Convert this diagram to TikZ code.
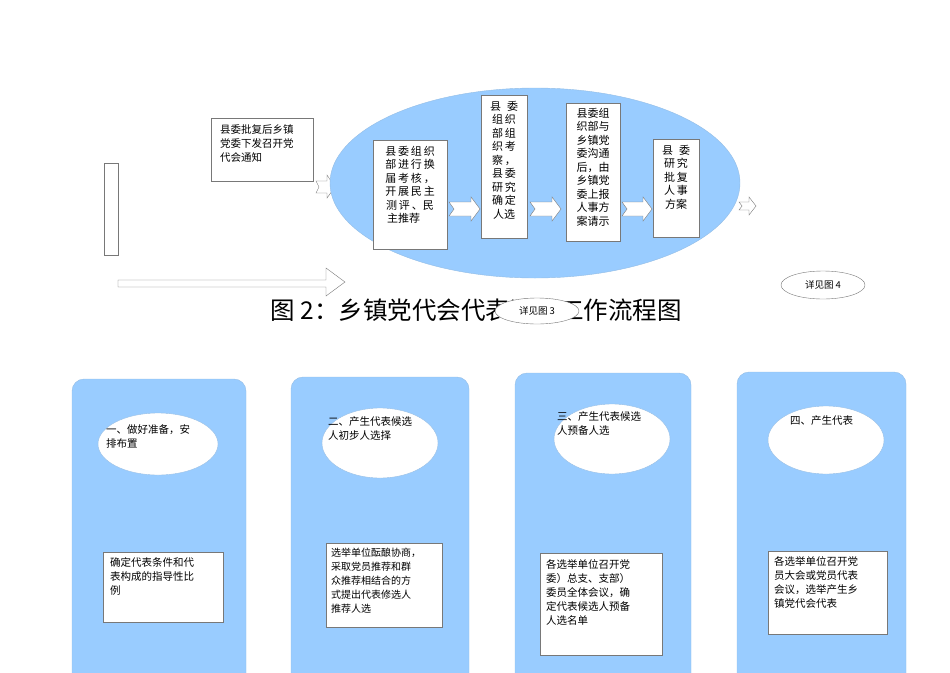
\documentclass[tikz,border=0pt]{standalone}
\usepackage{fontspec}
\setmainfont{Noto Sans CJK SC}
\usetikzlibrary{shapes.arrows}
\definecolor{lb}{RGB}{153,204,255}
\definecolor{ln}{RGB}{120,120,120}
\tikzset{
 wbox/.style={draw=ln,fill=white,line width=0.5pt,inner sep=0pt},
 txt/.style={font=\fontsize{10.5}{14}\selectfont,align=left,anchor=north west,inner sep=0pt},
 vtxt/.style={font=\fontsize{11}{13.5}\selectfont,align=center,anchor=north,inner sep=0pt},
 col/.style={fill=lb,draw=lb!80!gray,rounded corners=12pt},
 wel/.style={ellipse,draw=lb!80!gray,fill=white},
 harrow/.style={draw=ln,fill=white,line width=0.4pt},
}
\usetikzlibrary{shapes.geometric}
\begin{document}
\begin{tikzpicture}[x=1pt,y=-1pt]
\useasboundingbox (0,0) rectangle (950,672);
% left thin rect
\draw[ln,fill=white] (104,163) rectangle (118,255);
% long arrow
\draw[harrow] (118,280)--(326,280)--(326,268)--(345,282)--(326,296)--(326,287)--(118,287)--cycle;
% box
\node[wbox,minimum width=102pt,minimum height=63pt,anchor=north west] (b0) at (211,118) {};
\node[txt] at (220,124) {县委批复后乡镇\\党委下发召开党\\代会通知};
% small arrow left
\draw[harrow] (316,181)--(327,181)--(327,175)--(335,187)--(327,198)--(327,193)--(316,193)--(319,187)--cycle;
% big ellipse
\node[ellipse,fill=lb,draw=lb!80!gray,minimum width=410pt,minimum height=190pt] (el) at (535,183) {};
% boxes
\node[wbox,minimum width=74pt,minimum height=109pt,anchor=north west] (b1) at (373,140) {};
\node[vtxt] at (410,146) {县\,委\,组\,织\\部\,进\,行\,换\\届\,考\,核\,，\\开\,展\,民\,主\\测\,评\,、民\\主推荐\hphantom{\,民}};
\node[wbox,minimum width=46pt,minimum height=143pt,anchor=north west] (b2) at (481,95) {};
\node[vtxt] at (504,101) {县\hspace{6pt}委\\组\,织\\部\,组\\织\,考\\察\,，\\县\,委\\研\,究\\确\,定\\人选};
\node[wbox,minimum width=54pt,minimum height=138pt,anchor=north west] (b3) at (566,103) {};
\node[vtxt] at (593,108) {县委组\\织部与\\乡镇党\\委沟通\\后，由\\乡镇党\\委上报\\人事方\\案请示};
\node[wbox,minimum width=46pt,minimum height=98pt,anchor=north west] (b4) at (653,139) {};
\node[vtxt] at (676,145) {县\hspace{6pt}委\\研\,究\\批\,复\\人\,事\\方案};
% arrows between boxes
\foreach \a/\b in {449/480,530/561,622/652}{
 \draw[harrow] (\a,202)--(\b-9,202)--(\b-9,197)--(\b,209)--(\b-9,221)--(\b-9,216)--(\a,216)--(\a+5,209)--cycle;
}
% right small arrow
\draw[harrow] (739,202)--(749,202)--(749,197)--(756,206)--(749,215)--(749,210)--(739,210)--(742,206)--cycle;
% title
\node[font=\fontsize{24.5}{28}\selectfont] (title) at (476,310) {图 2：乡镇党代会代表选举工作流程图};
\node[ellipse,draw=ln,fill=white,minimum width=84pt,minimum height=26pt,font=\fontsize{9.5}{11}\selectfont] (s3) at (537,311) {详见图 3};
\node[ellipse,draw=ln,fill=white,minimum width=84pt,minimum height=28pt,font=\fontsize{9.5}{11}\selectfont] (s4) at (823,285) {详见图 4};
% columns
\fill[col] (72,379) rectangle (246,690);
\fill[col] (291,377) rectangle (469,690);
\fill[col] (515,373) rectangle (691,690);
\fill[col] (737,372) rectangle (906,690);
\node[wel,minimum width=120pt,minimum height=62pt] (e1) at (158,444) {};
\node[wel,minimum width=116pt,minimum height=70pt] (e2) at (380,443) {};
\node[wel,minimum width=116pt,minimum height=70pt] (e3) at (612,439) {};
\node[wel,minimum width=116pt,minimum height=68pt] (e4) at (826,440) {};
\node[txt] at (106,424) {一、做好准备，安\\排布置};
\node[txt] at (328,416) {二、产生代表候选\\人初步人选择};
\node[txt] at (557,411) {三、产生代表候选\\人预备人选};
\node[txt] at (790,415) {四、产生代表};
\node[wbox,minimum width=120pt,minimum height=70pt,anchor=north west] (c1) at (103,552) {};
\node[txt] at (110,557) {确定代表条件和代\\表构成的指导性比\\例};
\node[wbox,minimum width=116pt,minimum height=84pt,anchor=north west] (c2) at (326,543) {};
\node[txt,font=\fontsize{10}{14}\selectfont] at (331,548) {选举单位酝酿协商，\\采取党员推荐和群\\众推荐相结合的方\\式提出代表修选人\\推荐人选};
\node[wbox,minimum width=122pt,minimum height=102pt,anchor=north west] (c3) at (540,553) {};
\node[txt] at (546,559) {各选举单位召开党\\委）总支、支部）\\委员全体会议，确\\定代表候选人预备\\人选名单};
\node[wbox,minimum width=119pt,minimum height=83pt,anchor=north west] (c4) at (768,551) {};
\node[txt] at (774,556) {各选举单位召开党\\员大会或党员代表\\会议，选举产生乡\\镇党代会代表};
\end{tikzpicture}
\end{document}
